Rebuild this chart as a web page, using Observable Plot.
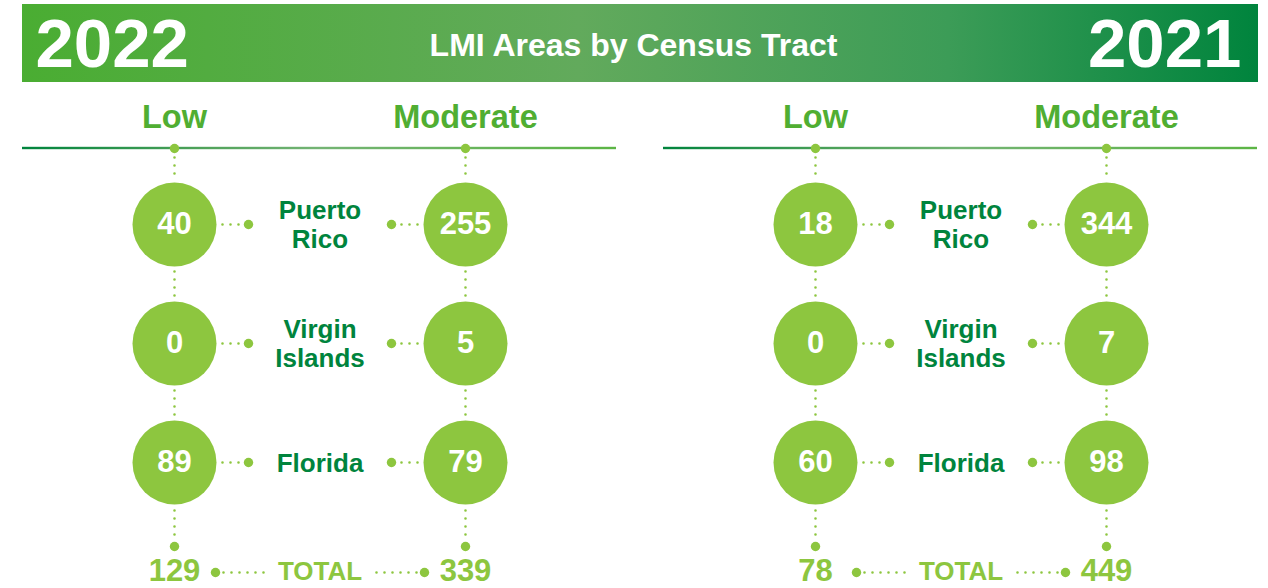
<!DOCTYPE html>
<html>
<head>
<meta charset="utf-8">
<script src="https://cdn.jsdelivr.net/npm/d3@7"></script>
<script src="https://cdn.jsdelivr.net/npm/@observablehq/plot@0.6"></script>
<style>
  html, body { margin: 0; padding: 0; background: #ffffff; }
</style>
</head>
<body>
<div id="chart"></div>
<script>
// ---------- data ----------
const title = "LMI Areas by Census Tract";
const years = ["2022", "2021"];
const levels = ["Low", "Moderate"];
const regions = ["Puerto Rico", "Virgin Islands", "Florida"];
const regionLabels = ["Puerto\nRico", "Virgin\nIslands", "Florida"];
const low2022 = [40, 0, 89];
const moderate2022 = [255, 5, 79];
const low2021 = [18, 0, 60];
const moderate2021 = [344, 7, 98];
const totalLabel = "TOTAL";

// ---------- layout ----------
const W = 1268, H = 588;
const LAY = {
  colX0: 174, colGap: 291, panelGap: 641,
  rowY0: 224, rowGap: 119, r: 42,
  headerY: 117, lineY: 148, bottomDotY: 546, totalY: 571,
  lineLeft: -152, lineRight: 442,
  bannerX1: 22, bannerX2: 1258, bannerY1: 4, bannerY2: 82
};
const green = "#8dc63f";
const bright = "#50ae32";
const dark = "#00843d";
const font = "Liberation Sans, Arial, Helvetica, sans-serif";

const series = {"2022": {Low: low2022, Moderate: moderate2022}, "2021": {Low: low2021, Moderate: moderate2021}};
const colX = (p, c) => LAY.colX0 + p * LAY.panelGap + c * LAY.colGap;
const rowY = i => LAY.rowY0 + i * LAY.rowGap;

const cells = [];
years.forEach((yr, p) => levels.forEach((lv, c) => regions.forEach((rg, i) => {
  cells.push({year: yr, level: lv, region: rg, value: series[yr][lv][i], x: colX(p, c), y: rowY(i), c});
})));
const heads = [];
years.forEach((yr, p) => levels.forEach((lv, c) => heads.push({label: lv, x: colX(p, c), p, c})));
const labels = [];
years.forEach((yr, p) => regions.forEach((rg, i) => labels.push({label: regionLabels[i], x: colX(p, 0.5), y: rowY(i)})));
const totals = [];
years.forEach((yr, p) => levels.forEach((lv, c) => totals.push({value: d3.sum(series[yr][lv]), x: colX(p, c), p, c})));
const totalTexts = years.map((yr, p) => ({label: totalLabel, x: colX(p, 0.5)}));
const panels = years.map((yr, p) => ({year: yr, p, x1: colX(p, 0) + LAY.lineLeft, x2: colX(p, 0) + LAY.lineRight}));

// connectors
const vLinks = [];
heads.forEach(h => {
  vLinks.push({x: h.x, y1: LAY.lineY + 9, y2: rowY(0) - LAY.r - 2});
  for (let i = 0; i < regions.length - 1; i++) vLinks.push({x: h.x, y1: rowY(i) + LAY.r + 5, y2: rowY(i + 1) - LAY.r - 2});
  vLinks.push({x: h.x, y1: rowY(regions.length - 1) + LAY.r + 6, y2: LAY.bottomDotY - 6});
});
const hLinks = [], bigDots = [];
cells.forEach(d => {
  const dir = d.c === 0 ? 1 : -1;
  const edge = d.x + dir * LAY.r;
  const dotX = edge + dir * 32;
  hLinks.push({x1: edge + dir * 6, x2: dotX - dir * 5, y: d.y});
  bigDots.push({x: dotX, y: d.y});
});
heads.forEach(h => { bigDots.push({x: h.x, y: LAY.lineY}); bigDots.push({x: h.x, y: LAY.bottomDotY}); });
totals.forEach(t => {
  const dir = t.c === 0 ? 1 : -1;
  const dotX = t.x + dir * 41;
  bigDots.push({x: dotX, y: LAY.totalY + 1});
  hLinks.push({x1: dotX + dir * 8, x2: t.x + dir * 96, y: LAY.totalY + 1});
});

const chart = Plot.plot({
  width: W, height: H,
  margin: 0,
  x: {type: "linear", domain: [0, W], range: [0, W], axis: null},
  y: {type: "linear", domain: [0, H], range: [0, H], axis: null},
  style: {background: "#ffffff", fontFamily: font},
  marks: [
    // banner
    Plot.rect([LAY], {x1: "bannerX1", x2: "bannerX2", y1: "bannerY1", y2: "bannerY2", fill: "url(#bannerGrad)"}),
    Plot.text([title], {x: W / 2 - 1, y: (LAY.bannerY1 + LAY.bannerY2) / 2 + 2, text: d => d, fill: "#ffffff", fontSize: 32, fontWeight: "bold", fontFamily: font}),
    Plot.text([years[0]], {x: 35, y: (LAY.bannerY1 + LAY.bannerY2) / 2 + 1, text: d => d, fill: "#ffffff", fontSize: 69, fontWeight: "bold", textAnchor: "start", fontFamily: font}),
    Plot.text([years[1]], {x: 1241, y: (LAY.bannerY1 + LAY.bannerY2) / 2 + 1, text: d => d, fill: "#ffffff", fontSize: 69, fontWeight: "bold", textAnchor: "end", fontFamily: font}),
    // header lines
    Plot.rect(panels, {x1: "x1", x2: "x2", y1: LAY.lineY - 1.2, y2: LAY.lineY + 1.2, fill: "url(#lineGrad)"}),
    Plot.text(heads, {x: "x", y: LAY.headerY, text: "label", fill: bright, fontSize: 32.5, fontWeight: "bold", fontFamily: font}),
    // dotted connectors
    Plot.link(vLinks, {x1: "x", x2: "x", y1: "y1", y2: "y2", stroke: green, strokeWidth: 2.6, strokeDasharray: "0 8", strokeLinecap: "round"}),
    Plot.link(hLinks, {x1: "x1", x2: "x2", y1: "y", y2: "y", stroke: green, strokeWidth: 2.6, strokeDasharray: "0 8", strokeLinecap: "round"}),
    Plot.dot(bigDots, {x: "x", y: "y", r: 4.7, fill: green}),
    // circles
    Plot.dot(cells, {x: "x", y: "y", r: LAY.r, fill: green}),
    Plot.text(cells, {x: "x", y: "y", text: d => String(d.value), fill: "#ffffff", fontSize: 31, fontWeight: "bold", fontFamily: font}),
    // region labels
    Plot.text(labels, {x: "x", y: "y", text: "label", fill: dark, fontSize: 26, fontWeight: "bold", lineHeight: 1.08, fontFamily: font}),
    // totals
    Plot.text(totals, {x: "x", y: LAY.totalY, text: d => String(d.value), fill: green, fontSize: 31, fontWeight: "bold", fontFamily: font}),
    Plot.text(totalTexts, {x: "x", y: LAY.totalY, text: "label", fill: green, fontSize: 26, fontWeight: "bold", fontFamily: font})
  ]
});

d3.select(chart).insert("defs", ":first-child").html(`
  <linearGradient id="bannerGrad" x1="0" y1="0" x2="1" y2="0">
    <stop offset="0" stop-color="#4aad32"/>
    <stop offset="0.45" stop-color="#62aa5c"/>
    <stop offset="0.75" stop-color="#3c9c57"/>
    <stop offset="1" stop-color="#00843d"/>
  </linearGradient>
  <linearGradient id="lineGrad" x1="0" y1="0" x2="1" y2="0">
    <stop offset="0" stop-color="#00843d"/>
    <stop offset="0.3" stop-color="#4fa25a"/>
    <stop offset="0.5" stop-color="#74b474"/>
    <stop offset="1" stop-color="#5cb545"/>
  </linearGradient>
`);
document.getElementById("chart").appendChild(chart);
</script>
</body>
</html>
